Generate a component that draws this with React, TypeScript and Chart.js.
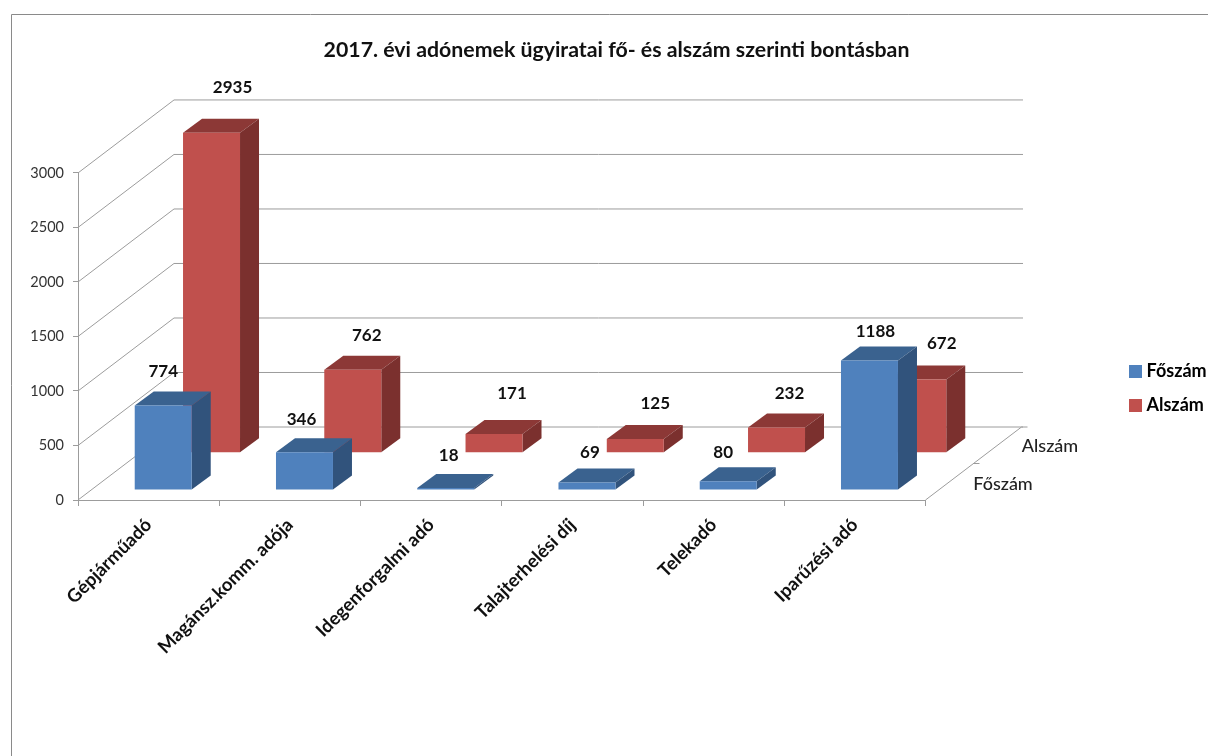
import React, { useEffect, useRef } from "react";
import { Chart, registerables } from "chart.js";

Chart.register(...registerables);

const titleText = "2017. évi adónemek ügyiratai fő- és alszám szerinti bontásban";
const categories = [
  "Gépjárműadó",
  "Magánsz.komm. adója",
  "Idegenforgalmi adó",
  "Talajterhelési díj",
  "Telekadó",
  "Iparűzési adó",
];
const foszam = [774, 346, 18, 69, 80, 1188];
const alszam = [2935, 762, 171, 125, 232, 672];
const yTicks = [0, 500, 1000, 1500, 2000, 2500, 3000];

const FONT = "Lato, 'Open Sans', sans-serif";
const DEPTH = { x: 96, y: -73 };
const GRID = "#9c9c9c";

const seriesStyle = [
  { front: "#4f81bd", side: "#31537c", top: "#3a628f", dx: 14.6, dy: -10 },
  { front: "#c0504d", side: "#7b302e", top: "#8c3836", dx: 62.9, dy: -47.3 },
];
const barDepth = { x: 19, y: -14 };

// Where each value label sits, relative to the top centre of its bar.
const labelNudge = [
  [[0, -34], [-3, -33], [3, -33], [3, -30], [-5, -29], [6, -29]],
  [[21, -45], [14, -34], [18, -41], [20, -36], [13, -34], [24, -36]],
];

const poly = (ctx: CanvasRenderingContext2D, pts: number[][], fill: string) => {
  ctx.beginPath();
  pts.forEach(([x, y], i) => (i ? ctx.lineTo(x, y) : ctx.moveTo(x, y)));
  ctx.closePath();
  ctx.fillStyle = fill;
  ctx.fill();
};

const line = (ctx: CanvasRenderingContext2D, pts: number[][]) => {
  ctx.beginPath();
  pts.forEach(([x, y], i) => (i ? ctx.lineTo(x, y) : ctx.moveTo(x, y)));
  ctx.stroke();
};

const swatch = (color: string) => {
  const c = document.createElement("canvas");
  c.width = 13;
  c.height = 13;
  const g = c.getContext("2d") as CanvasRenderingContext2D;
  g.fillStyle = color;
  g.fillRect(0, 0, 13, 13);
  return c;
};

const scene3d = {
  id: "scene3d",
  afterLayout(chart: any) {
    const { legend, titleBlock } = chart;
    if (titleBlock) {
      titleBlock.left = 0;
      titleBlock.right = 1233;
    }
    if (legend) {
      legend.left = 1117.5;
      legend.right = 1208;
      legend.top = 346.5;
      legend.bottom = 756;
    }
  },
  beforeDatasetsDraw(chart: any) {
    const { ctx, chartArea: a, scales } = chart;
    ctx.save();
    // Page frame
    ctx.strokeStyle = "#8a8a8a";
    ctx.lineWidth = 1;
    line(ctx, [[11.5, 756], [11.5, 14.5], [1208, 14.5]]);
    // Walls and floor
    ctx.strokeStyle = GRID;
    yTicks.forEach((v) => {
      const y = scales.y.getPixelForValue(v);
      line(ctx, [[a.left, y], [a.left + DEPTH.x, y + DEPTH.y], [a.right + DEPTH.x + 1.5, y + DEPTH.y]]);
    });
    const base = scales.y.getPixelForValue(0);
    const rx = a.right;
    line(ctx, [[rx, base], [rx + DEPTH.x, base + DEPTH.y], [rx + DEPTH.x + 6, base + DEPTH.y]]);
    const mx = rx + DEPTH.x / 2;
    const my = base + DEPTH.y / 2;
    line(ctx, [[mx, my], [mx + 6, my]]);
    ctx.fillStyle = "#222";
    ctx.font = `500 18px ${FONT}`;
    ctx.textAlign = "center";
    ctx.textBaseline = "middle";
    ctx.fillText("Alszám", 1050, 446.5);
    ctx.fillText("Főszám", 1003, 484.5);
    // Bars, back row first
    [1, 0].forEach((d) => {
      const s = seriesStyle[d];
      chart.getDatasetMeta(d).data.forEach((el: any) => {
        const w = el.width;
        const l = el.x - w / 2 + s.dx;
        const r = l + w;
        const t = el.y + s.dy;
        const b = el.base + s.dy;
        const dx = barDepth.x;
        const dy = barDepth.y;
        poly(ctx, [[l, t], [r, t], [r + dx, t + dy], [l + dx, t + dy]], s.top);
        poly(ctx, [[r, t], [r + dx, t + dy], [r + dx, b + dy], [r, b]], s.side);
        poly(ctx, [[l, t], [r, t], [r, b], [l, b]], s.front);
      });
    });
    // Value labels
    ctx.fillStyle = "#111";
    ctx.font = `bold 17px ${FONT}`;
    [1, 0].forEach((d) => {
      const s = seriesStyle[d];
      chart.getDatasetMeta(d).data.forEach((el: any, i: number) => {
        const [nx, ny] = labelNudge[d][i];
        ctx.fillText(String(chart.data.datasets[d].data[i]), el.x + s.dx + nx, el.y + s.dy + ny);
      });
    });
    ctx.restore();
  },
};

export default function App() {
  const ref = useRef<HTMLCanvasElement>(null);
  useEffect(() => {
    const chart = new Chart(ref.current as HTMLCanvasElement, {
      type: "bar",
      data: {
        labels: categories,
        datasets: [
          { label: "Főszám", data: foszam, backgroundColor: "rgba(79,129,189,0)", borderWidth: 0 },
          { label: "Alszám", data: alszam, backgroundColor: "rgba(192,80,77,0)", borderWidth: 0 },
        ],
      },
      options: {
        animation: false,
        responsive: false,
        layout: { padding: { left: 0, right: 282.5, top: 0, bottom: 0 } },
        datasets: { bar: { grouped: false, barPercentage: 0.4035, categoryPercentage: 1 } },
        plugins: {
          tooltip: { enabled: false },
          title: {
            display: true,
            text: titleText,
            color: "#111",
            font: { family: FONT, size: 21.3, weight: "bold", lineHeight: 1.2 },
            padding: { top: 37.5, bottom: 109.9 },
          },
          legend: {
            position: "chartArea",
            align: "start",
            labels: {
              generateLabels: (c: any) =>
                c.data.datasets.map((ds: any, i: number) => ({
                  text: ds.label,
                  fillStyle: seriesStyle[i].front,
                  strokeStyle: seriesStyle[i].front,
                  pointStyle: swatch(seriesStyle[i].front),
                  lineWidth: 0,
                  datasetIndex: i,
                })),
              usePointStyle: true,
              pointStyleWidth: 4,
              boxHeight: 13,
              padding: 16,
              color: "#222",
              font: { family: FONT, size: 18, weight: "bold" },
            },
          },
        },
        scales: {
          x: {
            afterFit: (s: any) => {
              s.height = 256;
            },
            border: { color: GRID },
            grid: { drawOnChartArea: false, color: GRID, tickLength: 6 },
            ticks: {
              minRotation: 45,
              maxRotation: 45,
              autoSkip: false,
              color: "#111",
              padding: 8,
              font: { family: FONT, size: 18.5, weight: "bold" },
            },
          },
          y: {
            min: 0,
            max: 3000,
            afterFit: (s: any) => {
              s.width = 78;
            },
            border: { color: GRID },
            grid: { drawOnChartArea: false, color: GRID, tickLength: 5 },
            afterBuildTicks: (s: any) => {
              s.ticks = yTicks.map((value) => ({ value }));
            },
            ticks: {
              color: "#333",
              padding: 9,
              font: { family: FONT, size: 14.5 },
              callback: (v: any) => String(v),
            },
          },
        },
      },
      plugins: [scene3d],
    } as any);
    return () => chart.destroy();
  }, []);
  return (
    <div style={{ position: "absolute", left: 0, top: 0, width: 1208, height: 756, background: "#fff" }}>
      <canvas ref={ref} width={1208} height={756} style={{ display: "block" }} />
    </div>
  );
}
